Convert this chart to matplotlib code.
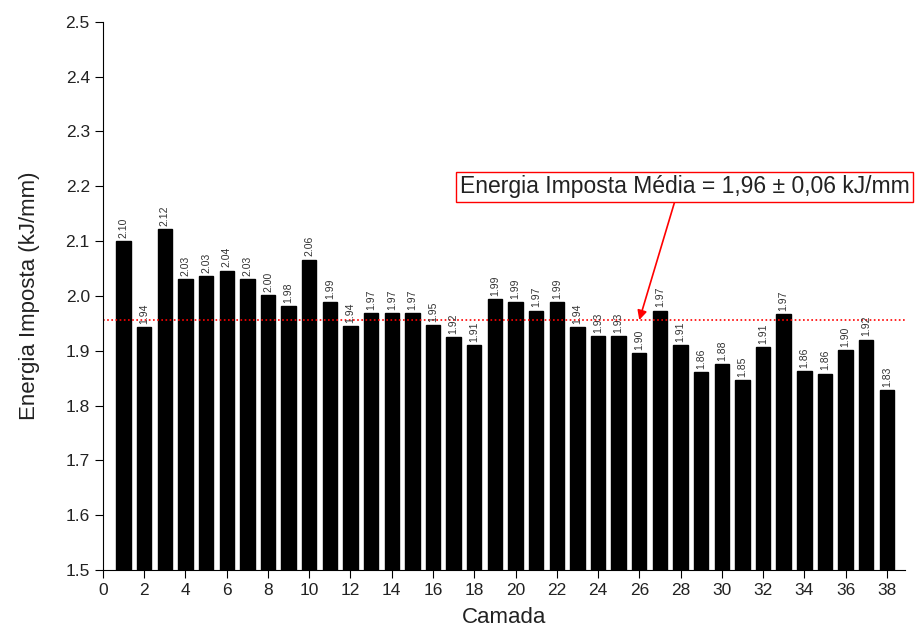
import matplotlib.pyplot as plt
import numpy as np

plt.rcParams['font.family'] = ['Liberation Sans', 'DejaVu Sans']

camada = np.arange(1, 39)
energia = [2.100, 1.943, 2.122, 2.031, 2.036, 2.046, 2.031, 2.002, 1.982, 2.066,
           1.989, 1.945, 1.969, 1.969, 1.969, 1.947, 1.925, 1.910, 1.994, 1.989,
           1.973, 1.989, 1.943, 1.927, 1.927, 1.896, 1.973, 1.910, 1.861, 1.876,
           1.847, 1.907, 1.967, 1.863, 1.858, 1.901, 1.920, 1.828]
rotulos = ["2.10", "1.94", "2.12", "2.03", "2.03", "2.04", "2.03", "2.00", "1.98", "2.06",
           "1.99", "1.94", "1.97", "1.97", "1.97", "1.95", "1.92", "1.91", "1.99", "1.99",
           "1.97", "1.99", "1.94", "1.93", "1.93", "1.90", "1.97", "1.91", "1.86", "1.88",
           "1.85", "1.91", "1.97", "1.86", "1.86", "1.90", "1.92", "1.83"]
media = 1.956
texto_media = "Energia Imposta Média = 1,96 ± 0,06 kJ/mm"

fig = plt.figure(figsize=(9.16, 6.33), dpi=100)
ax = fig.add_axes([0.1124, 0.0995, 0.876, 0.866])

ax.bar(camada, energia, width=0.7, color='black', edgecolor='black')
for x, v, lab in zip(camada, energia, rotulos):
    ax.text(x, v + 0.006, lab, rotation=90, ha='center', va='bottom',
            fontsize=7.5, color='#333333')

ax.axhline(media, color='red', linestyle=(0, (1, 1.5)), linewidth=1.2)

ax.annotate(texto_media, xy=(26.0, media), xytext=(17.3, 2.199),
            fontsize=16.5, color='#222222', va='center', ha='left',
            bbox=dict(boxstyle='square,pad=0.15', fc='white', ec='red', lw=1),
            arrowprops=dict(arrowstyle='-|>', color='red', lw=1.2,
                            shrinkA=0, shrinkB=0, mutation_scale=14,
                            relpos=(0.48, 0.0)))

ax.set_xlim(0, 38.9)
ax.set_ylim(1.5, 2.5)
ax.set_xticks(np.arange(0, 39, 2))
ax.set_yticks(np.arange(1.5, 2.51, 0.1))
ax.set_yticklabels([f"{t:.1f}" for t in np.arange(1.5, 2.51, 0.1)])
ax.spines['top'].set_visible(False)
ax.spines['right'].set_visible(False)
ax.tick_params(direction='out', length=6, labelsize=12.5, colors='black',
               labelcolor='#222222')
ax.set_xlabel('Camada', fontsize=16, labelpad=6, color='#222222')
ax.set_ylabel('Energia Imposta (kJ/mm)', fontsize=16, labelpad=18, color='#222222')

fig.savefig('out.png', dpi=100)
